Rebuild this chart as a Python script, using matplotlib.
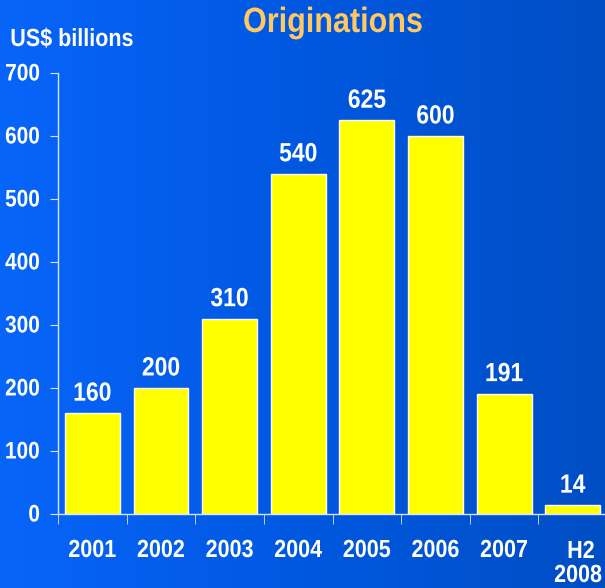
import matplotlib
matplotlib.use('Agg')
import matplotlib.pyplot as plt
import matplotlib.transforms as mtransforms
import numpy as np
from matplotlib.colors import LinearSegmentedColormap
from matplotlib.ticker import FixedLocator
from matplotlib.patheffects import AbstractPathEffect

plt.rcParams['font.family'] = ['Liberation Sans', 'DejaVu Sans']
plt.rcParams['font.weight'] = 'bold'

years = ['2001', '2002', '2003', '2004', '2005', '2006', '2007', 'H2\n2008']
values = [160, 200, 310, 540, 625, 600, 191, 14]
yticks = [0, 100, 200, 300, 400, 500, 600, 700]


class VStretch(AbstractPathEffect):
    """Draw text a bit taller than normal (scaled about the baseline)."""
    def __init__(self, sy=1.15):
        super().__init__()
        self._sy = sy

    def draw_path(self, renderer, gc, tpath, affine, rgbFace=None):
        renderer.draw_path(gc, tpath, mtransforms.Affine2D().scale(1, self._sy) + affine, rgbFace)


tall = [VStretch(1.15)]

fig = plt.figure(figsize=(6.05, 5.88), dpi=100)

# blue background, brighter on the left
bg = fig.add_axes([0, 0, 1, 1], zorder=-10)
grad = np.linspace(0, 1, 256).reshape(1, -1)
cmap = LinearSegmentedColormap.from_list('bg', ['#0865FA', '#0058E0', '#004EC4'])
bg.imshow(grad, aspect='auto', cmap=cmap, extent=[0, 1, 0, 1])
bg.set_axis_off()

ax = fig.add_axes([0.0959, 0.1259, 0.9074, 0.75])
ax.patch.set_alpha(0)
x = np.arange(len(years))
ax.bar(x, values, width=0.8, color='#FFFF00', edgecolor='white', linewidth=1)

for xi, v in zip(x, values):
    ax.annotate(str(v), (xi, v), xytext=(0, 9), textcoords='offset points',
                ha='center', va='baseline', color='white', fontsize=16.5,
                fontweight='bold', path_effects=tall)

ax.set_xlim(-0.5, len(years) - 0.5)
ax.set_ylim(0, 700)
ax.set_yticks(yticks)

for s in ['top', 'right']:
    ax.spines[s].set_visible(False)
for s in ['left', 'bottom']:
    ax.spines[s].set_color('#D8E4FF')
    ax.spines[s].set_linewidth(1)

# tick marks between categories, year labels drawn underneath
ax.set_xticks([])
ax.xaxis.set_minor_locator(FixedLocator(np.arange(-0.5, len(years), 1)))
ax.tick_params(axis='x', which='minor', length=7.5, color='#D8E4FF', direction='out')
ax.tick_params(axis='y', length=6, color='#D8E4FF', colors='white', labelsize=15, pad=7)
for lab in ax.get_yticklabels():
    lab.set_fontweight('bold')
    lab.set_path_effects(tall)

xlab_tr = mtransforms.blended_transform_factory(ax.transData, fig.transFigure)
for xi, lab in zip(x, years):
    if '\n' in lab:
        # last label sits right at the edge: two lines, right-aligned
        top, bottom = lab.split('\n')
        ax.text(xi + 0.12, 1 - 558 / 588, top, transform=xlab_tr, ha='center', va='baseline',
                color='white', fontsize=15.5, fontweight='bold', path_effects=tall)
        ax.text(0.995, 1 - 582 / 588, bottom, transform=fig.transFigure, ha='right', va='baseline',
                color='white', fontsize=15.5, fontweight='bold', path_effects=tall)
    else:
        ax.text(xi, 1 - 557 / 588, lab, transform=xlab_tr, ha='center', va='baseline',
                color='white', fontsize=15.5, fontweight='bold', path_effects=tall)

fig.text(0.550, 1 - 32 / 588, 'Originations', ha='center', va='baseline', color='#FFC860',
         fontsize=22, fontweight='bold', path_effects=tall)
fig.text(0.017, 1 - 46 / 588, 'US$ billions', ha='left', va='baseline', color='white',
         fontsize=15.5, fontweight='bold', path_effects=tall)

fig.savefig('out.png', dpi=100)
